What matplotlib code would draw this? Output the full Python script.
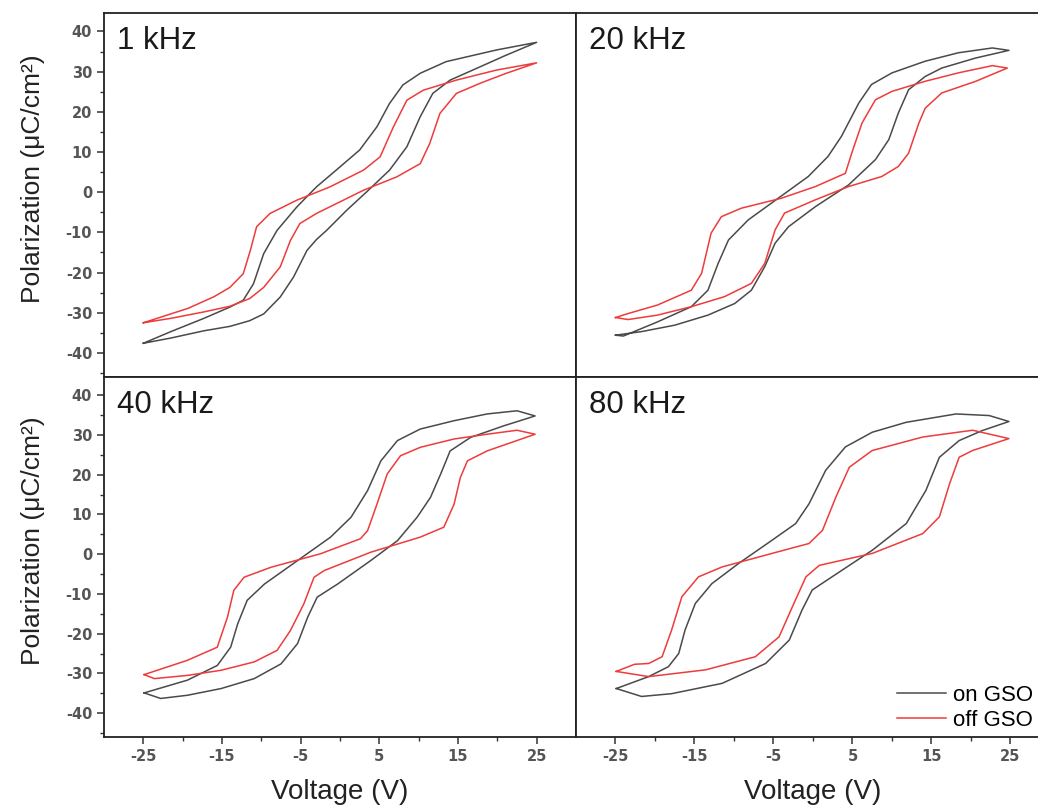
import matplotlib
matplotlib.use("Agg")
import matplotlib.pyplot as plt

plt.rcParams['font.family'] = ['Liberation Sans', 'DejaVu Sans']
plt.rcParams['axes.unicode_minus'] = False

# full loops: voltage sweep -25 -> 25 -> -25
v_1k_on = [-25, -21.5, -17.3, -14, -11.5, -9.7, -7.6, -5.9, -4.2, -3, -1.7, 0.85, 3.4, 6.3, 8.5, 10.2, 11.8, 14, 17.8, 21, 25,
           19.9, 13.5, 10.2, 8, 6.3, 4.7, 2.5, 0, -3, -5.5, -8, -9.7, -11, -12.3, -14, -17.3, -21.5, -25]
p_1k_on = [-37.6, -36.3, -34.5, -33.4, -32, -30.3, -26.1, -21.1, -14.5, -11.8, -9.5, -4.5, 0.1, 5.5, 11.3, 18.8, 24.6, 27.9, 31.2, 34, 37.3,
           35.4, 32.5, 29.6, 26.7, 22.1, 16.3, 10.5, 6.3, 1.3, -3.7, -9.5, -15.3, -22.8, -26.9, -28.6, -31.4, -34.7, -37.6]
v_1k_off = [-25, -21.5, -17.3, -14, -11.5, -9.7, -7.6, -6.3, -5.1, -3, 3, 7.2, 10.2, 11.4, 12.7, 14.8, 17.8, 21, 25,
            19.9, 14.8, 10.6, 8.5, 6.8, 5.1, 3, -1.3, -5.5, -8.9, -10.6, -11.4, -12.3, -14, -16, -19.3, -25]
p_1k_off = [-32.5, -31.4, -29.8, -28.4, -26.5, -23.7, -18.6, -12, -7.8, -5.3, 0.5, 3.8, 7.1, 12.1, 19.6, 24.6, 27.1, 29.5, 32.2,
            30.4, 27.9, 25.4, 22.9, 16.3, 8.8, 5.5, 1.3, -2, -5.3, -8.6, -14.5, -20.3, -23.7, -26, -28.9, -32.5]

v_20k_on = [-25, -21.7, -17.5, -13.3, -9.9, -7.8, -6.1, -4.8, -3.1, 0.3, 4.5, 7.9, 9.6, 10.8, 12.1, 14.2, 16.3, 20.6, 24.8,
            22.7, 18.4, 14.2, 10, 7.4, 5.8, 3.6, 1.9, -0.6, -4.4, -8.2, -10.7, -12, -13.3, -15.4, -19.7, -24, -25]
p_20k_on = [-35.6, -34.7, -33.1, -30.6, -27.7, -24.4, -18.5, -12.7, -8.6, -3.6, 1.8, 8.1, 13.1, 19.7, 25.5, 28.8, 30.9, 33.4, 35.3,
            35.9, 34.7, 32.6, 29.7, 26.8, 22.2, 13.9, 8.9, 3.9, -1.5, -6.9, -11.9, -17.7, -24.4, -28.5, -32.3, -35.8, -35.6]
v_20k_off = [-25, -23.4, -19.7, -15.4, -11.2, -7.8, -6.1, -4.8, -3.6, 0.3, 4.5, 8.7, 10.8, 12.1, 13.4, 14.2, 16.3, 20.6, 24.6,
             22.7, 18.4, 14.2, 10, 7.9, 6.2, 4.9, 4.1, 0.3, -4, -9.1, -11.6, -12.9, -14.1, -15.4, -19.7, -23.4, -25]
p_20k_off = [-31.2, -31.7, -30.6, -28.5, -26, -22.7, -17.7, -9.4, -5.2, -1.9, 1.4, 3.9, 6.4, 9.7, 17.2, 20.9, 24.7, 27.6, 30.9,
             31.5, 29.7, 27.6, 25.1, 23, 17.2, 9.7, 4.7, 1.4, -1.5, -4, -6.1, -10.2, -20.2, -24.4, -28.1, -30.2, -31.2]

v_40k_on = [-24.9, -22.8, -19.4, -15.1, -10.9, -7.5, -5.4, -4.1, -2.9, -0.3, 3.9, 7.3, 9.8, 11.5, 12.8, 14, 16.6, 20.8, 24.8,
            22.5, 18.7, 14.5, 10.2, 7.3, 5.2, 3.5, 1.4, -1.2, -5.4, -9.6, -11.8, -13, -13.9, -15.6, -19.4, -24.9]
p_40k_on = [-34.9, -36.3, -35.5, -33.8, -31.3, -27.6, -22.5, -15.8, -10.8, -7.5, -1.6, 3.4, 9.3, 14.3, 20.2, 26, 29.4, 32.3, 34.8,
            36.1, 35.3, 33.6, 31.5, 28.6, 23.5, 16, 9.3, 4.3, -1.6, -7.5, -11.6, -17.5, -23.4, -28, -31.7, -34.9]
v_40k_off = [-24.9, -23.6, -19.4, -15.1, -10.9, -8, -6.3, -4.6, -3.3, -2, 3.9, 10.2, 13.2, 14.5, 15.3, 16.2, 18.7, 24.8,
             22.5, 18.7, 14.5, 10.2, 7.7, 6, 4.7, 3.5, 2.6, -2.5, -8.8, -12.2, -13.5, -14.3, -15.6, -19.4, -24.9]
p_40k_off = [-30.3, -31.3, -30.5, -29.2, -27.1, -24.2, -19.2, -12.5, -5.8, -4.1, 0.5, 4.3, 6.8, 12.6, 19.3, 23.5, 26, 30.2,
             31.2, 30.2, 29, 26.9, 24.8, 20.2, 12.6, 5.9, 3.9, 0.1, -3.3, -5.8, -9.1, -15.8, -23.4, -26.7, -30.3]

v_80k_on = [-24.9, -21.7, -17.9, -11.5, -6, -3, -1.4, -0.1, 2.4, 7.5, 11.8, 14.3, 16, 18.5, 21.4, 24.8,
            22.3, 18.1, 11.8, 7.5, 4.1, 1.6, -0.5, -2.2, -5.2, -9.4, -12.8, -14.9, -16.2, -17, -18.3, -20.8, -24.9]
p_80k_on = [-33.8, -35.8, -35.1, -32.5, -27.5, -21.6, -14.1, -9, -5.7, 1, 7.7, 16.1, 24.4, 28.6, 31.1, 33.4,
            34.9, 35.3, 33.2, 30.7, 27, 21.1, 12.7, 7.7, 3.5, -2.3, -7.4, -12.4, -19.1, -25, -28.3, -30.8, -33.8]
v_80k_off = [-24.9, -20.8, -13.6, -7.3, -4.3, -2.6, -0.9, 0.8, 7.5, 13.9, 16, 17.3, 18.5, 20.2, 24.8,
             20.2, 13.9, 7.5, 4.6, 2.9, 1.2, -0.5, -5.2, -11.5, -14.5, -16.6, -17.9, -19.1, -20.8, -22.6, -24.9]
p_80k_off = [-29.5, -30.8, -29.1, -25.8, -20.8, -13.2, -5.7, -2.8, 0.2, 5.2, 9.4, 17.8, 24.4, 26.1, 29.1,
             31.2, 29.5, 26.1, 21.9, 14.4, 6, 2.7, 0.2, -3.2, -5.7, -10.7, -19.1, -25.8, -27.5, -27.7, -29.5]

panel_labels = ["1 kHz", "20 kHz", "40 kHz", "80 kHz"]
on_v = [v_1k_on, v_20k_on, v_40k_on, v_80k_on]
on_p = [p_1k_on, p_20k_on, p_40k_on, p_80k_on]
off_v = [v_1k_off, v_20k_off, v_40k_off, v_80k_off]
off_p = [p_1k_off, p_20k_off, p_40k_off, p_80k_off]

x_ticks = [-25, -15, -5, 5, 15, 25]
x_minor = [-20, -10, 0, 10, 20]
y_ticks = [-40, -30, -20, -10, 0, 10, 20, 30, 40]

W, H = 1038, 807
fig = plt.figure(figsize=(W / 100, H / 100), dpi=100)

# axes boxes in pixels: (left, top, right, bottom)
boxes = [(104, 13, 576, 377), (576, 13, 1050, 377),
         (104, 377, 576, 737), (576, 377, 1050, 737)]

on_color = "#4a4a4a"
off_color = "#ee3b3b"
tick_color = "#555555"

axes = []
for i, (l, t, r, b) in enumerate(boxes):
    ax = fig.add_axes([l / W, 1 - b / H, (r - l) / W, (b - t) / H])
    axes.append(ax)
    ax.plot(on_v[i], on_p[i], color=on_color, lw=1.1, label="on GSO", solid_joinstyle="round")
    ax.plot(off_v[i], off_p[i], color=off_color, lw=1.1, label="off GSO", solid_joinstyle="round")
    ax.set_xlim(-30, 30)
    ax.set_ylim(-46, 44.6)
    for s in ax.spines.values():
        s.set_linewidth(1.3)
        s.set_color("#222222")
    ax.text(0.028, 0.965, panel_labels[i], transform=ax.transAxes, ha="left", va="top",
            fontsize=22.5, color="#1a1a1a")

    left = i in (0, 2)
    bottom = i in (2, 3)
    ax.set_xticks(x_ticks)
    ax.set_xticks(x_minor, minor=True)
    ax.set_yticks(y_ticks)
    ax.set_yticks([v + 5 for v in y_ticks[:-1]] + [-45], minor=True)
    ax.tick_params(axis="x", which="both", direction="out", bottom=bottom, labelbottom=bottom,
                   labelsize=10.5, labelcolor=tick_color, color="#333333")
    ax.tick_params(axis="y", which="both", direction="out", left=left, labelleft=left,
                   labelsize=10.5, labelcolor=tick_color, color="#333333")
    ax.tick_params(which="major", length=5, width=1.1)
    ax.tick_params(which="minor", length=3, width=1.0)
    for lab in ax.get_xticklabels() + ax.get_yticklabels():
        lab.set_fontfamily("DejaVu Sans")
        lab.set_fontweight("bold")
    if left:
        ax.set_ylabel("Polarization (\u03bcC/cm\u00b2)", fontsize=19, color="#222222", labelpad=15)
        ax.yaxis.label.set_y(0.545)
    if bottom:
        ax.set_xlabel("Voltage (V)", fontsize=20, color="#222222", labelpad=11)

axes[3].legend(loc="lower left", bbox_to_anchor=(897 / W, 1 - 731 / H), bbox_transform=fig.transFigure,
               frameon=False, fontsize=16, handlelength=2.2, handletextpad=0.3, labelspacing=0.2,
               borderaxespad=0, borderpad=0)

fig.savefig("out.png", dpi=100)
